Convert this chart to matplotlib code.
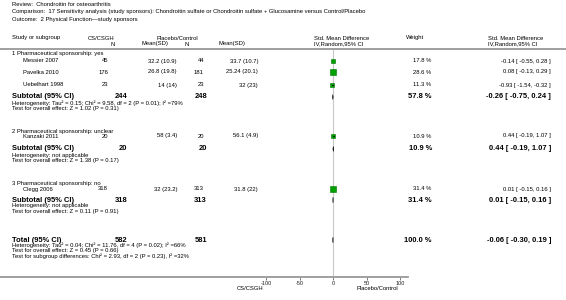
import matplotlib
matplotlib.use("Agg")
import numpy as np
import matplotlib.pyplot as plt
from matplotlib.patches import Polygon

plt.rcParams['font.family'] = ['Liberation Sans', 'DejaVu Sans']

# study level data
studies = ["Messier 2007", "Pavelka 2010", "Uebelhart 1998", "Kanzaki 2011", "Clegg 2006"]
cs_n = [45, 176, 23, 20, 318]
cs_mean = [32.2, 26.8, 14, 58, 32]
cs_sd = [10.9, 19.8, 14, 3.4, 23.2]
pl_n = [44, 181, 23, 20, 313]
pl_mean = [33.7, 25.24, 32, 56.1, 31.8]
pl_sd = [10.7, 20.1, 23, 4.9, 22]
weights = [17.8, 28.6, 11.3, 10.9, 31.4]
smd = [-0.14, 0.08, -0.93, 0.44, 0.01]
ci_lo = [-0.55, -0.13, -1.54, -0.19, -0.15]
ci_hi = [0.28, 0.29, -0.32, 1.07, 0.16]

# subgroups
group_names = ["1 Pharmaceutical sponsorship: yes",
               "2 Pharmaceutical sponsorship: unclear",
               "3 Pharmaceutical sponsorship: no"]
group_members = [[0, 1, 2], [3], [4]]
group_cs_n = [244, 20, 318]
group_pl_n = [248, 20, 313]
group_weight = [57.8, 10.9, 31.4]
group_smd = [-0.26, 0.44, 0.01]
group_lo = [-0.75, -0.19, -0.15]
group_hi = [0.24, 1.07, 0.16]
group_het = ["Heterogeneity: Tau\u00b2 = 0.15; Chi\u00b2 = 9.58, df = 2 (P = 0.01); I\u00b2 =79%",
             "Heterogeneity: not applicable",
             "Heterogeneity: not applicable"]
group_test = ["Test for overall effect: Z = 1.02 (P = 0.31)",
              "Test for overall effect: Z = 1.38 (P = 0.17)",
              "Test for overall effect: Z = 0.11 (P = 0.91)"]

total_cs_n = 582
total_pl_n = 581
total_weight = 100.0
total_smd, total_lo, total_hi = -0.06, -0.30, 0.19
total_lines = ["Heterogeneity: Tau\u00b2 = 0.04; Chi\u00b2 = 11.76, df = 4 (P = 0.02); I\u00b2 =66%",
               "Test for overall effect: Z = 0.45 (P = 0.66)",
               "Test for subgroup differences: Chi\u00b2 = 2.93, df = 2 (P = 0.23), I\u00b2 =32%"]

xticks = [-100, -50, 0, 50, 100]

# row positions (pixels from top)
group_header_y = [54, 131, 183]
study_y = [61, 72, 85, 136, 189]
subtotal_y = [97, 149, 200]
total_y = 240

W, H = 566, 300
fig = plt.figure(figsize=(W / 100, H / 100), dpi=100)
fig.patch.set_facecolor("white")

# forest axis: 0 at x=333px, 100 at x=400px, spanning x 0..408 px, y 49..277 px
u = 100 / 67.0
ax_top, ax_bot = 49, 277
fax = fig.add_axes([0, 1 - ax_bot / H, 408 / W, (ax_bot - ax_top) / H])
fax.set_xlim(-333 * u, 75 * u)
fax.set_ylim(ax_bot, ax_top)
for s in ["top", "left", "right"]:
    fax.spines[s].set_visible(False)
fax.spines["bottom"].set_color("#999999")
fax.spines["bottom"].set_linewidth(1.3)
fax.set_yticks([])
fax.set_xticks(xticks)
fax.set_xticklabels([str(t) for t in xticks])
fax.tick_params(axis="x", length=2, width=0.6, color="#666666", labelsize=4.0, pad=1.2, labelcolor="#222222")
fax.patch.set_alpha(0)
fax.axvline(0, color="#c8c8c8", lw=0.8, zorder=1)

for i in range(len(studies)):
    fax.plot([ci_lo[i], ci_hi[i]], [study_y[i], study_y[i]], color="black", lw=0.6, zorder=3)
    side = 1.31 * np.sqrt(weights[i]) * 0.64
    fax.plot(smd[i], study_y[i], marker="s", markersize=side, color="#00a000",
             markeredgecolor="#007000", markeredgewidth=0.4, zorder=2)


def diamond(x, lo, hi, y, h=2.6):
    fax.add_patch(Polygon([[lo, y], [x, y - h], [hi, y], [x, y + h]], closed=True,
                          facecolor="black", edgecolor="black", lw=0.3, zorder=3))


for g in range(3):
    diamond(group_smd[g], group_lo[g], group_hi[g], subtotal_y[g])
diamond(total_smd, total_lo, total_hi, total_y)

# text overlay in pixel coordinates
tax = fig.add_axes([0, 0, 1, 1])
tax.set_xlim(0, W)
tax.set_ylim(H, 0)
tax.axis("off")

SM = 4.2
BIG = 5.4


def t(x, y, s, ha="left", size=SM, bold=False):
    tax.text(x, y, s, ha=ha, va="center", fontsize=size,
             fontweight="bold" if bold else "normal", color="black")


t(12, 5, "Review:  Chondroitin for osteoarthritis")
t(12, 12, "Comparison:  17 Sensitivity analysis (study sponsors): Chondroitin sulfate or Chondroitin sulfate + Glucosamine versus Control/Placebo")
t(12, 19, "Outcome:  2 Physical Function\u2014study sponsors")

t(12, 38, "Study or subgroup")
t(101, 38, "CS/CSGH", ha="center")
t(113, 44, "N", ha="center")
t(155, 44, "Mean(SD)", ha="center")
t(177, 38, "Placebo/Control", ha="center")
t(187, 44, "N", ha="center")
t(232, 44, "Mean(SD)", ha="center")
t(314, 38, "Std. Mean Difference")
t(314, 44, "IV,Random,95% CI")
t(406, 38, "Weight")
t(488, 38, "Std. Mean Difference")
t(488, 44, "IV,Random,95% CI")
tax.plot([0, W], [49, 49], color="#999999", lw=1.3)


def effect(e, lo, hi):
    return f"{e:.2f} [ {lo:.2f}, {hi:.2f} ]"


for g in range(3):
    t(12, group_header_y[g], group_names[g])
    for i in group_members[g]:
        y = study_y[i]
        t(23, y, studies[i])
        t(108, y, str(cs_n[i]), ha="right")
        t(177, y, f"{cs_mean[i]:g} ({cs_sd[i]:g})", ha="right")
        t(204, y, str(pl_n[i]), ha="right")
        t(258, y, f"{pl_mean[i]:g} ({pl_sd[i]:g})", ha="right")
        t(431, y, f"{weights[i]:.1f} %", ha="right")
        t(551, y, effect(smd[i], ci_lo[i], ci_hi[i]), ha="right")
    y = subtotal_y[g]
    t(12, y, "Subtotal (95% CI)", bold=True, size=BIG)
    t(127, y, str(group_cs_n[g]), ha="right", bold=True, size=BIG)
    t(207, y, str(group_pl_n[g]), ha="right", bold=True, size=BIG)
    t(432, y, f"{group_weight[g]:.1f} %", ha="right", bold=True, size=BIG)
    t(551, y, effect(group_smd[g], group_lo[g], group_hi[g]), ha="right", bold=True, size=BIG)
    t(12, y + 6, group_het[g])
    t(12, y + 11.5, group_test[g])

t(12, total_y, "Total (95% CI)", bold=True, size=BIG)
t(127, total_y, str(total_cs_n), ha="right", bold=True, size=BIG)
t(207, total_y, str(total_pl_n), ha="right", bold=True, size=BIG)
t(432, total_y, f"{total_weight:.1f} %", ha="right", bold=True, size=BIG)
t(551, total_y, effect(total_smd, total_lo, total_hi), ha="right", bold=True, size=BIG)
for k, line in enumerate(total_lines):
    t(12, total_y + 5.5 + 5.3 * k, line)

t(263, 288, "CS/CSGH", ha="right")
t(377, 288, "Placebo/Control", ha="center")

fig.savefig("out.png", dpi=100)
